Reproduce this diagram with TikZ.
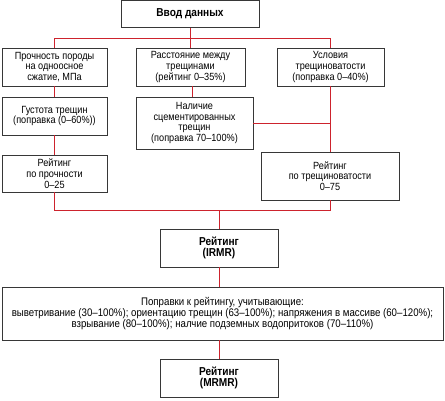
\documentclass[tikz,border=0pt]{standalone}
\usepackage{fontspec}
\setmainfont[FakeStretch=0.88]{Liberation Sans}
\definecolor{linered}{RGB}{205,35,45}
\definecolor{boxgray}{RGB}{55,55,55}
\begin{document}
\begin{tikzpicture}[x=1pt,y=-1pt,
  box/.style={draw=boxgray,line width=0.9pt,rectangle,inner sep=0pt,align=center,
    font=\fontsize{10.4}{10.8}\selectfont,fill=white},
  wbox/.style={box,font=\fontsize{11}{9.3}\selectfont},
  bbox/.style={box,font=\fontsize{11.5}{11.5}\selectfont\bfseries},
  conn/.style={draw=linered,line width=1pt}]
\useasboundingbox (0,0) rectangle (445,400);
% boxes
\node[bbox,minimum width=138pt,minimum height=27pt] (in) at (190,14) {Ввод данных};
\node[box,minimum width=105pt,minimum height=38pt] (b1) at (54.5,67) {Прочность породы\\на одноосное\\сжатие, МПа};
\node[box,minimum width=109pt,minimum height=38pt] (b2) at (190.5,67) {Расстояние между\\трещинами\\(рейтинг 0–35\%)};
\node[box,minimum width=107pt,minimum height=38pt] (b3) at (330.5,67) {Условия\\трещиноватости\\(поправка 0–40\%)};
\node[box,minimum width=105pt,minimum height=38pt] (g) at (54.5,116) {Густота трещин\\(поправка (0–60\%))};
\node[box,minimum width=117pt,minimum height=52pt] (n) at (194.5,123) {Наличие\\сцементированных\\трещин\\(поправка 70–100\%)};
\node[box,minimum width=105pt,minimum height=37pt] (r1) at (54.5,173.5) {Рейтинг\\по прочности\\0–25};
\node[box,minimum width=138pt,minimum height=48pt] (r2) at (330,176) {Рейтинг\\по трещиноватости\\0–75};
\node[bbox,minimum width=118pt,minimum height=38pt] (irmr) at (219,248) {Рейтинг\\(IRMR)};
\node[wbox,minimum width=441pt,minimum height=53pt] (corr) at (222.5,313.5) {Поправки к рейтингу, учитывающие:\\выветривание (30–100\%); ориентацию трещин (63–100\%); напряжения в массиве (60–120\%);\\взрывание (80–100\%); налчие подземных водопритоков (70–110\%)};
\node[bbox,minimum width=118pt,minimum height=38pt] (mrmr) at (219,378) {Рейтинг\\(MRMR)};
% junction coordinates
\coordinate (tl) at (54.5,38);
\coordinate (tr) at (330.5,38);
\coordinate (bl) at (54.5,210);
\coordinate (br) at (330.5,210);
% connectors
\draw[conn] (b1.north) -- (tl) -- (tr) -- (b3.north);
\draw[conn] (in.south) -- (in.south |- tl);
\draw[conn] (b2.north) -- (b2.north |- tl);
\draw[conn] (b1.south) -- (g.north);
\draw[conn] (g.south) -- (r1.north);
\draw[conn] (r1.south) -- (bl) -- (br) -- (br |- r2.south);
\draw[conn] (b2.south -| 192,0) -- (n.north -| 192,0);
\draw[conn] (b3.south) -- (b3.south |- r2.north);
\draw[conn] (n.east) -- (n.east -| b3.south);
\draw[conn] (irmr.north |- bl) -- (irmr.north);
\draw[conn] (irmr.south) -- (irmr.south |- corr.north);
\draw[conn] (mrmr.north |- corr.south) -- (mrmr.north);
\end{tikzpicture}
\end{document}
